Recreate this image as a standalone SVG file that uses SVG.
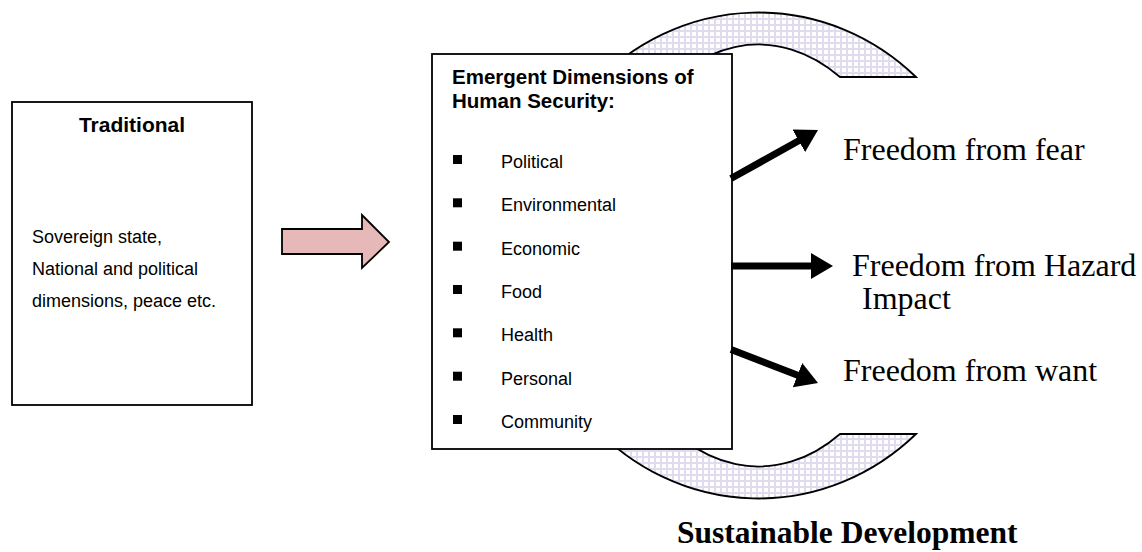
<svg xmlns="http://www.w3.org/2000/svg" width="1142" height="552" viewBox="0 0 1142 552">
<style>
.box{fill:#fff;stroke:#000;stroke-width:1.8}
.sans{font-family:"Liberation Sans",Arial,sans-serif;fill:#000}
.serif{font-family:"Liberation Serif","Times New Roman",serif;fill:#000}
.hd{font-weight:bold;font-size:20.5px}
.li{font-size:18px}
.big{font-size:32px}
.conn{stroke:#000;stroke-width:7;fill:none;marker-end:url(#ah)}
</style>
<defs>
<pattern id="grid" width="6" height="6" patternUnits="userSpaceOnUse">
<rect width="6" height="6" fill="#fff"/>
<path d="M0,1 H6 M1,0 V6" stroke="#e0dbee" stroke-width="2"/>
</pattern>
<marker id="ah" markerUnits="userSpaceOnUse" markerWidth="22" markerHeight="26" refX="3" refY="13" orient="auto" viewBox="0 0 22 26">
<path d="M0,0 L22,13 L0,26 Z" fill="#000"/>
</marker>
</defs>
<rect width="1142" height="552" fill="#fff"/>

<g id="sustainable-development">
<path d="M916,77 A232,243 0 1 0 916,434 L840,434 A153,211 0 1 1 840,77 Z" fill="url(#grid)" stroke="#000" stroke-width="1.8"/>
<text class="serif" x="677" y="543" font-size="31.5" font-weight="bold">Sustainable Development</text>
</g>

<g id="traditional">
<rect class="box" x="12" y="102" width="240" height="303"/>
<text class="sans" x="132" y="132" font-size="21" font-weight="bold" text-anchor="middle">Traditional</text>
<text class="sans" font-size="18"><tspan x="32" y="243">Sovereign state,</tspan><tspan x="32" y="275">National and political</tspan><tspan x="32" y="307">dimensions, peace etc.</tspan></text>
</g>

<g id="transition-arrow">
<path d="M282,229 H362 V215 L389,242 L362,268 V254 H282 Z" fill="#e6b8b7" stroke="#000" stroke-width="1.8" stroke-linejoin="miter"/>
</g>

<g id="emergent">
<rect class="box" x="432" y="54" width="300" height="395"/>
<text class="sans hd"><tspan x="452" y="84">Emergent Dimensions of</tspan><tspan x="452" y="108">Human Security:</tspan></text>
<g fill="#000">
<rect x="453" y="155" width="9" height="9"/>
<rect x="453" y="198.3" width="9" height="9"/>
<rect x="453" y="241.7" width="9" height="9"/>
<rect x="453" y="285" width="9" height="9"/>
<rect x="453" y="328.3" width="9" height="9"/>
<rect x="453" y="371.7" width="9" height="9"/>
<rect x="453" y="415" width="9" height="9"/>
</g>
<text class="sans li">
<tspan x="501" y="168">Political</tspan>
<tspan x="501" y="211.3">Environmental</tspan>
<tspan x="501" y="254.7">Economic</tspan>
<tspan x="501" y="298">Food</tspan>
<tspan x="501" y="341.3">Health</tspan>
<tspan x="501" y="384.7">Personal</tspan>
<tspan x="501" y="428">Community</tspan>
</text>
</g>

<g id="connectors">
<line class="conn" x1="731" y1="178.5" x2="801.4" y2="139.3"/>
<line class="conn" x1="731" y1="266" x2="814" y2="266"/>
<line class="conn" x1="731" y1="349.6" x2="800.3" y2="376.2"/>
</g>

<g id="freedom-fear"><text class="serif big" x="843" y="160">Freedom from fear</text></g>
<g id="freedom-hazard"><text class="serif big"><tspan x="852" y="276">Freedom from Hazard</tspan><tspan x="862" y="309">Impact</tspan></text></g>
<g id="freedom-want"><text class="serif big" x="843" y="381">Freedom from want</text></g>
</svg>
